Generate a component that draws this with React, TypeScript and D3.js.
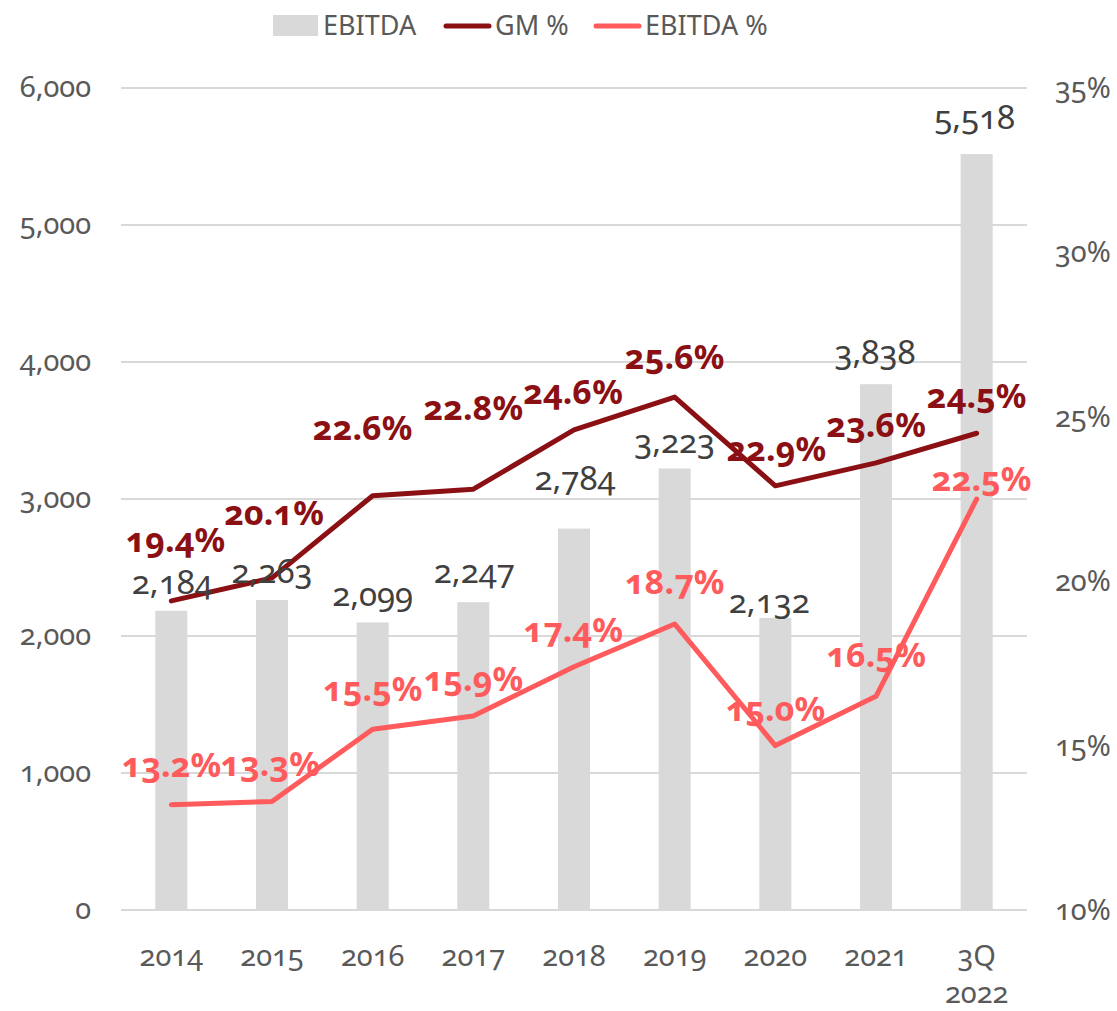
import React from "react";
import * as d3 from "d3";

const categories = ["2014", "2015", "2016", "2017", "2018", "2019", "2020", "2021", "3Q 2022"];
const ebitda = [2184, 2263, 2099, 2247, 2784, 3223, 2132, 3838, 5518];
const gmPct = [19.4, 20.1, 22.6, 22.8, 24.6, 25.6, 22.9, 23.6, 24.5];
const ebitdaPct = [13.2, 13.3, 15.5, 15.9, 17.4, 18.7, 15.0, 16.5, 22.5];
const leftTicks = [0, 1000, 2000, 3000, 4000, 5000, 6000];
const rightTicks = [10, 15, 20, 25, 30, 35];

// label layout offsets (px) relative to the mark
const barLabelOff: [number, number][] = [[1, -27], [0, -27], [0, -26], [1, -29], [1, -49], [0, -25], [-6, -15], [-1, -30], [-2, -35]];
const gmLabelOff: [number, number][] = [[4, -60], [2, -64], [-10, -67], [0, -80], [-1, -37], [0, -39], [1, -36], [0, -37], [0, -36]];
const ebLabelOff: [number, number][] = [[0, -39], [-2, -36], [0, -39], [0, -36], [-1, -36], [0, -41], [0, -36], [0, -40], [5, -19]];

const W = 1117;
const H = 1011;
const FONT = "'Noto Sans', 'Open Sans', sans-serif";
const GM_COLOR = "#8B1014";
const EB_COLOR = "#FF5A5C";
const BAR_COLOR = "#D9D9D9";
const AXIS_TEXT = "#595959";

export default function App() {
  const x = d3.scaleBand<string>().domain(categories).range([121, 1027]).padding(0);
  const yL = d3.scaleLinear().domain([0, 6000]).range([910, 88]);
  const yR = d3.scaleLinear().domain([10, 35]).range([910, 88]);
  const cx = (c: string) => (x(c) as number) + x.bandwidth() / 2;
  const barW = 32;

  const line = d3
    .line<number>()
    .x((_, i) => cx(categories[i]))
    .y((v) => yR(v));

  const fmt = d3.format(",");
  const numStyle: React.CSSProperties = { fontVariantNumeric: "oldstyle-nums" };

  return (
    <svg
      width={W}
      height={H}
      style={{ position: "absolute", left: 0, top: 0, background: "#fff" }}
      fontFamily={FONT}
    >
      {/* gridlines */}
      {leftTicks.map((t) => (
        <line key={t} x1={121} x2={1027} y1={yL(t)} y2={yL(t)} stroke="#D9D9D9" strokeWidth={2} />
      ))}
      {/* left axis labels */}
      {leftTicks.map((t) => (
        <text key={"l" + t} x={91} y={yL(t) + 9} textAnchor="end" fontSize={29} fill={AXIS_TEXT} style={numStyle}>
          {fmt(t)}
        </text>
      ))}
      {/* right axis labels */}
      {rightTicks.map((t) => (
        <text key={"r" + t} x={1055} y={yR(t) + 10} textAnchor="start" fontSize={29} fill={AXIS_TEXT} style={numStyle}>
          {t + "%"}
        </text>
      ))}
      {/* x axis labels */}
      {categories.map((c) => {
        const parts = c.split(" ");
        return (
          <text key={"x" + c} x={cx(c)} y={966} textAnchor="middle" fontSize={29} fill={AXIS_TEXT} style={numStyle}>
            {parts.map((p, i) => (
              <tspan key={i} x={cx(c)} dy={i === 0 ? 0 : 37}>
                {p}
              </tspan>
            ))}
          </text>
        );
      })}
      {/* bars */}
      {ebitda.map((v, i) => (
        <rect
          key={"b" + i}
          x={cx(categories[i]) - barW / 2}
          y={yL(v)}
          width={barW}
          height={yL(0) - yL(v)}
          fill={BAR_COLOR}
        />
      ))}
      {/* lines */}
      <path d={line(gmPct) || ""} fill="none" stroke={GM_COLOR} strokeWidth={5} strokeLinejoin="round" strokeLinecap="round" />
      <path d={line(ebitdaPct) || ""} fill="none" stroke={EB_COLOR} strokeWidth={5} strokeLinejoin="round" strokeLinecap="round" />
      {/* bar labels */}
      {ebitda.map((v, i) => (
        <text
          key={"bl" + i}
          x={cx(categories[i]) + barLabelOff[i][0]}
          y={yL(v) + barLabelOff[i][1] + 10}
          textAnchor="middle"
          fontSize={33}
          fill="#404040"
          style={numStyle}
        >
          {fmt(v)}
        </text>
      ))}
      {/* GM labels */}
      {gmPct.map((v, i) => (
        <text
          key={"gl" + i}
          x={cx(categories[i]) + gmLabelOff[i][0]}
          y={yR(v) + gmLabelOff[i][1] + 11}
          textAnchor="middle"
          fontSize={34}
          fontWeight={700}
          fill={GM_COLOR}
          style={numStyle}
        >
          {v.toFixed(1) + "%"}
        </text>
      ))}
      {/* EBITDA % labels */}
      {ebitdaPct.map((v, i) => (
        <text
          key={"el" + i}
          x={cx(categories[i]) + ebLabelOff[i][0]}
          y={yR(v) + ebLabelOff[i][1] + 11}
          textAnchor="middle"
          fontSize={34}
          fontWeight={700}
          fill={EB_COLOR}
          style={numStyle}
        >
          {v.toFixed(1) + "%"}
        </text>
      ))}
      {/* legend */}
      <g>
        <rect x={273} y={15} width={45} height={21} fill={BAR_COLOR} />
        <text x={323} y={35} fontSize={27} fill={AXIS_TEXT}>EBITDA</text>
        <line x1={446} x2={489} y1={26} y2={26} stroke={GM_COLOR} strokeWidth={5} strokeLinecap="round" />
        <text x={495} y={35} fontSize={27} fill={AXIS_TEXT}>GM %</text>
        <line x1={596} x2={639} y1={26} y2={26} stroke={EB_COLOR} strokeWidth={5} strokeLinecap="round" />
        <text x={645} y={35} fontSize={27} fill={AXIS_TEXT}>EBITDA %</text>
      </g>
    </svg>
  );
}
